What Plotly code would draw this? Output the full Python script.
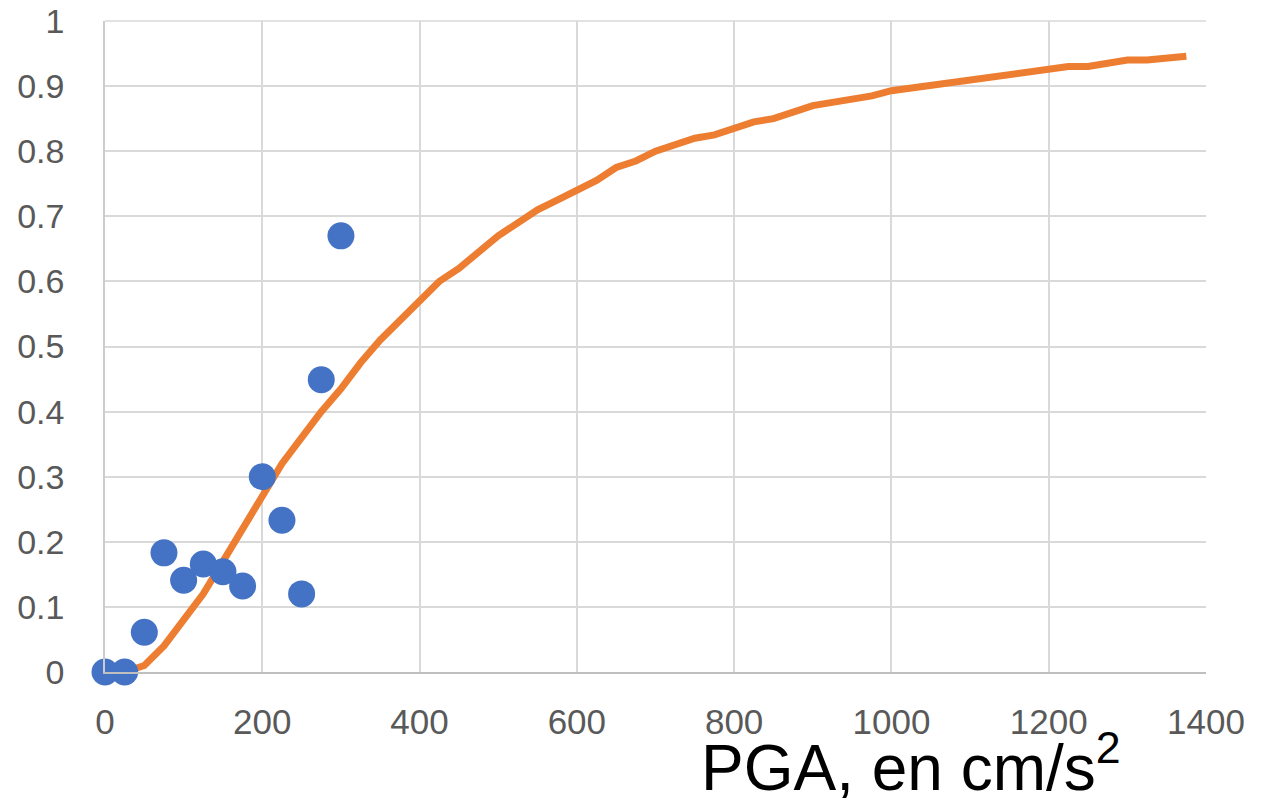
import plotly.graph_objects as go

# Observed data (blue dots)
obs_pga = [0, 25, 50, 75, 100, 125, 150, 175, 200, 225, 250, 275, 300]
obs_frac = [0.0, 0.0, 0.061, 0.183, 0.141, 0.166, 0.154, 0.132, 0.300, 0.233, 0.120, 0.449, 0.670]

# Fitted curve (orange line)
fit_pga = [25, 50, 75, 100, 125, 150, 175, 200, 225, 250, 275, 300, 325, 350, 375, 400,
           425, 450, 475, 500, 525, 550, 575, 600, 625, 650, 675, 700, 725, 750, 775, 800,
           825, 850, 875, 900, 925, 950, 975, 1000, 1025, 1050, 1075, 1100, 1125, 1150,
           1175, 1200, 1225, 1250, 1275, 1300, 1325, 1350, 1375]
fit_frac = [0.0, 0.01, 0.04, 0.08, 0.12, 0.17, 0.22, 0.27, 0.32, 0.36, 0.40, 0.435, 0.475,
            0.51, 0.54, 0.57, 0.60, 0.62, 0.645, 0.67, 0.69, 0.71, 0.725, 0.74, 0.755,
            0.775, 0.785, 0.80, 0.81, 0.82, 0.825, 0.835, 0.845, 0.85, 0.86, 0.87, 0.875,
            0.88, 0.885, 0.893, 0.897, 0.902, 0.906, 0.91, 0.914, 0.918, 0.922, 0.926,
            0.93, 0.93, 0.935, 0.94, 0.94, 0.943, 0.946]

x_ticks = [0, 200, 400, 600, 800, 1000, 1200, 1400]
y_ticks = [0, 0.1, 0.2, 0.3, 0.4, 0.5, 0.6, 0.7, 0.8, 0.9, 1]
y_tick_text = ["0", "0.1", "0.2", "0.3", "0.4", "0.5", "0.6", "0.7", "0.8", "0.9", "1"]
x_title = "PGA, en cm/s<sup>2</sup>"

FONT = "Liberation Sans, Arial, sans-serif"
GRID = "#d9d9d9"
TICKC = "#595959"

fig = go.Figure()
fig.add_trace(go.Scatter(
    x=fit_pga, y=fit_frac, mode="lines",
    line=dict(color="#ED7D31", width=7),
    cliponaxis=False, showlegend=False,
))
fig.add_trace(go.Scatter(
    x=obs_pga, y=obs_frac, mode="markers",
    marker=dict(color="#4472C4", size=27, line=dict(width=0)),
    cliponaxis=False, showlegend=False,
))

fig.update_layout(
    width=1253, height=790,
    margin=dict(l=97, r=55, t=13, b=126, autoexpand=False),
    paper_bgcolor="white", plot_bgcolor="white",
    font=dict(family=FONT, color=TICKC),
    xaxis=dict(
        range=[0, 1400], tickvals=x_ticks, ticktext=[str(v) for v in x_ticks],
        showgrid=True, gridcolor=GRID, gridwidth=1.5,
        showline=True, linecolor="#bfbfbf", linewidth=2,
        zeroline=False, ticks="", ticklabelstandoff=18, automargin=False,
        ticklabeloverflow="allow",
        tickfont=dict(size=35, color=TICKC, family=FONT),
    ),
    yaxis=dict(
        range=[0, 1], tickvals=y_ticks, ticktext=y_tick_text,
        showgrid=True, gridcolor=GRID, gridwidth=1.5,
        showline=True, linecolor="#cccccc", linewidth=1.5,
        zeroline=False, ticks="", ticklabelstandoff=32, automargin=False,
        ticklabeloverflow="allow",
        tickfont=dict(size=34, color=TICKC, family=FONT),
    ),
    shapes=[dict(
        type="line", xref="paper", yref="paper", x0=0, x1=1, y0=1, y1=1,
        line=dict(color=GRID, width=1.5), layer="below",
    )],
    annotations=[dict(
        text=x_title, xref="paper", yref="paper",
        x=0.732, y=-0.074, xanchor="center", yanchor="top",
        showarrow=False, font=dict(size=64, color="black", family=FONT),
    )],
)

fig.write_html("out.html")
